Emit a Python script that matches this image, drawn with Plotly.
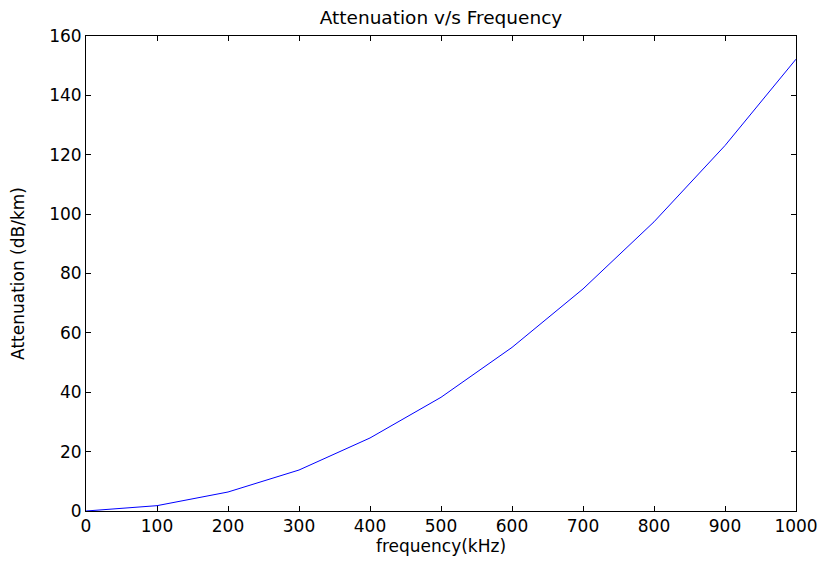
import plotly.graph_objects as go

frequency_khz = [0, 100, 200, 300, 400, 500, 600, 700, 800, 900, 1000]
attenuation_db_km = [0, 1.8, 6.4, 13.8, 24.6, 38.3, 55.1, 74.8, 97.4, 123.1, 152.2]

x_ticks = [0, 100, 200, 300, 400, 500, 600, 700, 800, 900, 1000]
y_ticks = [0, 20, 40, 60, 80, 100, 120, 140, 160]

fig = go.Figure()
fig.add_trace(go.Scatter(
    x=frequency_khz, y=attenuation_db_km, mode="lines",
    line=dict(color="#0000ff", width=1), showlegend=False,
))

FAM = "DejaVu Sans, Arial, Helvetica, sans-serif"
font = dict(family=FAM, size=17, color="black")
axis_common = dict(
    showline=True, linecolor="black", linewidth=1, mirror="ticks",
    ticks="inside", ticklen=5, tickcolor="black", tickwidth=1,
    showgrid=False, zeroline=False, tickfont=font, automargin=False,
)

fig.update_layout(
    width=821, height=562,
    margin=dict(l=86, r=25, t=36, b=51),
    paper_bgcolor="white", plot_bgcolor="white",
    font=font,
    title=dict(text="Attenuation v/s Frequency", x=0.5, xref="paper", xanchor="center",
               y=1, yref="paper", yanchor="bottom", pad=dict(b=12), font=dict(family=FAM, size=18.5)),
    xaxis=dict(range=[0, 1000], tickvals=x_ticks, **axis_common,
               title=dict(text="frequency(kHz)", font=dict(family=FAM, size=17), standoff=3)),
    yaxis=dict(range=[0, 160], tickvals=y_ticks, **axis_common,
               title=dict(text="Attenuation (dB/km)", font=dict(family=FAM, size=17), standoff=20)),
)

fig.write_html("out.html")
